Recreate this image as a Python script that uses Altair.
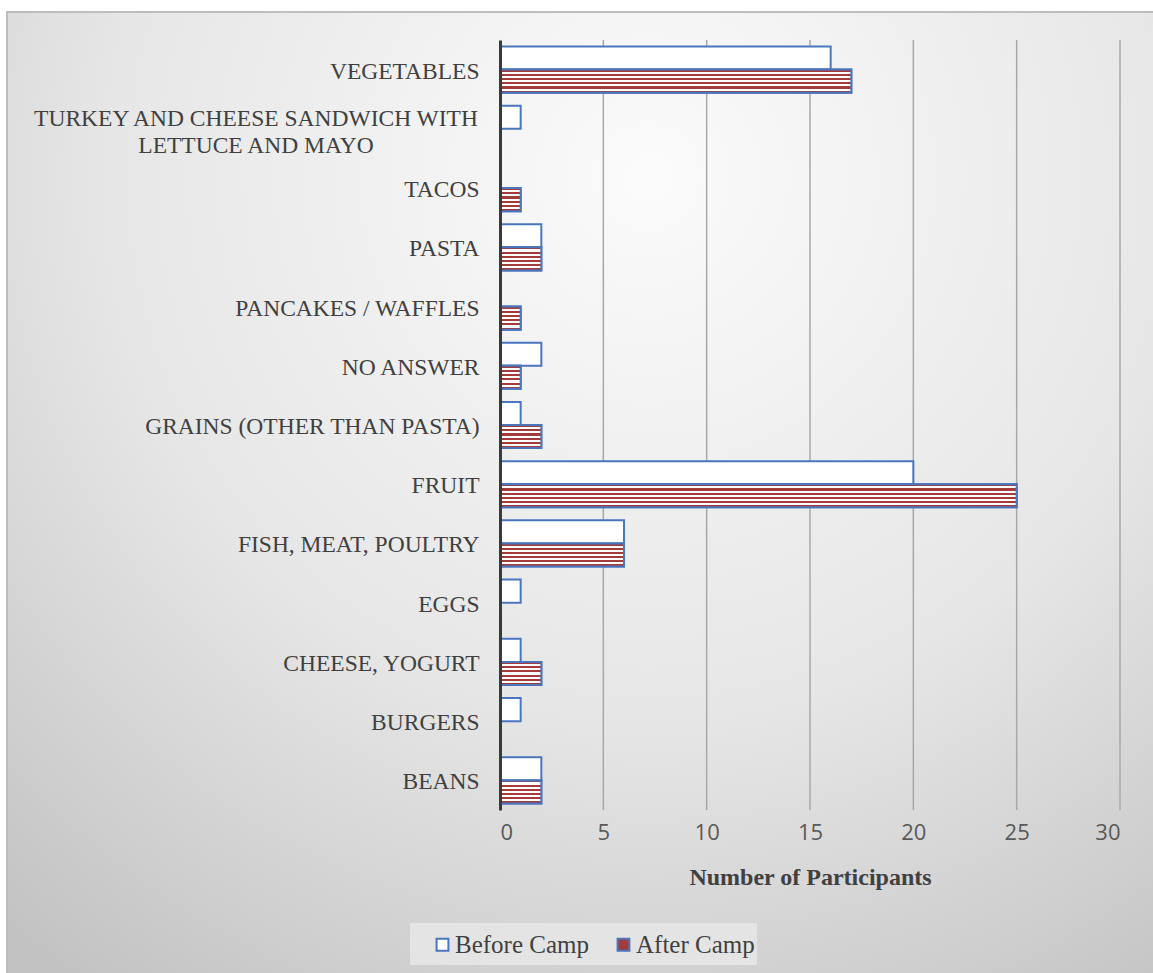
import altair as alt
import pandas as pd

# Favourite foods reported before and after camp
categories = [
    "VEGETABLES",
    "TURKEY AND CHEESE SANDWICH WITH LETTUCE AND MAYO",
    "TACOS",
    "PASTA",
    "PANCAKES / WAFFLES",
    "NO ANSWER",
    "GRAINS (OTHER THAN PASTA)",
    "FRUIT",
    "FISH, MEAT, POULTRY",
    "EGGS",
    "CHEESE, YOGURT",
    "BURGERS",
    "BEANS",
]
before_camp = [16, 1, 0, 2, 0, 2, 1, 20, 6, 1, 1, 1, 2]
after_camp = [17, 0, 1, 2, 1, 1, 2, 25, 6, 0, 2, 0, 2]
series = ["Before Camp", "After Camp"]
x_ticks = [0, 5, 10, 15, 20, 25, 30]

# the long category is written on two centred lines
long_food = categories[1]
long_lines = ["TURKEY AND CHEESE SANDWICH WITH", "LETTUCE AND MAYO"]

rows = []
for cat, b, a in zip(categories, before_camp, after_camp):
    rows.append({"food": cat, "series": series[0], "count": b})
    rows.append({"food": cat, "series": series[1], "count": a})
df = pd.DataFrame(rows)
ticks_df = pd.DataFrame({"tick": x_ticks[1:]})
long_df = pd.DataFrame([{"food": long_food, "text": "\n".join(long_lines)}])

W, H = 620, 770
PAD_L, PAD_T, PAD_R, PAD_B = 500, 40, 33, 163

BLUE = "#4a76bd"
RED = "#a33b3b"
SERIF = "Liberation Serif"
LABEL_SIZE = 23.5
LABEL_PAD = 21

# horizontal red/white stripes for the after-camp bars
n_seg = 11
stops = []
for i in range(n_seg):
    c = RED if i % 2 == 0 else "#ffffff"
    stops.append(alt.GradientStop(offset=i / n_seg, color=c))
    stops.append(alt.GradientStop(offset=(i + 1) / n_seg, color=c))
stripes = alt.LinearGradient(gradient="linear", stops=stops, x1=0, x2=0, y1=0, y2=1)

backdrop = alt.RadialGradient(
    gradient="radial",
    stops=[alt.GradientStop(offset=0, color="#fbfbfb"),
           alt.GradientStop(offset=0.55, color="#e6e6e6"),
           alt.GradientStop(offset=1, color="#c2c2c2")],
    x1=0.55, y1=0.22, r1=0, x2=0.55, y2=0.22, r2=0.85,
)

one = pd.DataFrame([{"k": 1}])

# chart backdrop with its frame
bg = alt.Chart(one).mark_rect(
    fill=backdrop, stroke="#bdbdbd", strokeWidth=2
).encode(
    x=alt.value(7 - PAD_L), x2=alt.value(W + PAD_R + 20),
    y=alt.value(12 - PAD_T), y2=alt.value(H + PAD_B + 20),
)

# panel behind the legend
legend_box = alt.Chart(one).mark_rect(fill="#e4e4e4").encode(
    x=alt.value(410 - PAD_L), x2=alt.value(757 - PAD_L),
    y=alt.value(923 - PAD_T), y2=alt.value(965 - PAD_T),
)

# vertical gridlines, drawn behind the bars
grid = alt.Chart(ticks_df).mark_rule(color="#a8a8a8", strokeWidth=1.5).encode(
    x=alt.X("tick:Q"), y=alt.value(0), y2=alt.value(H),
)

y_enc = alt.Y(
    "food:N", sort=categories, title=None,
    scale=alt.Scale(paddingInner=0.22, paddingOuter=0.11),
    axis=alt.Axis(
        labelFont=SERIF, labelFontSize=LABEL_SIZE, labelColor="#404040",
        labelPadding=LABEL_PAD, ticks=False, domainColor="#3a3a3a", domainWidth=3,
        labelExpr=f"datum.label == '{long_food}' ? '' : datum.label",
        labelLimit=700, labelOffset=2, zindex=2,
    ),
)
x_enc = alt.X(
    "count:Q", title="Number of Participants",
    scale=alt.Scale(domain=[0, 30], nice=False),
    axis=alt.Axis(
        values=x_ticks, grid=False,
        domain=False, ticks=False, labelFont="Open Sans", labelFontSize=22,
        labelColor="#595959", labelPadding=12, titleFont=SERIF, titleFontSize=24,
        titleFontWeight="bold", titleColor="#404040", titlePadding=22, zindex=2,
    ),
)
yoff = alt.YOffset("series:N", sort=series, scale=alt.Scale(domain=series))

bars = alt.Chart(df).transform_filter("datum.count > 0").mark_bar(
    stroke=BLUE, strokeWidth=2
).encode(
    x=x_enc, y=y_enc, yOffset=yoff,
    fill=alt.Fill(
        "series:N", sort=series,
        scale=alt.Scale(domain=series, range=["#ffffff", RED]),
        legend=alt.Legend(
            title=None, orient="none", direction="horizontal",
            legendX=-70, legendY=892, padding=0, zindex=2,
            labelFont=SERIF, labelFontSize=25, labelColor="#404040",
            symbolType="square", symbolSize=140, symbolStrokeColor=BLUE,
            symbolStrokeWidth=2, columnPadding=22, labelOffset=0,
        ),
    ),
)

after_bars = alt.Chart(df).transform_filter(
    "datum.count > 0 && datum.series == 'After Camp'"
).mark_bar(fill=stripes, stroke=BLUE, strokeWidth=2).encode(
    x="count:Q", y=alt.Y("food:N", sort=categories), yOffset=yoff,
)

# two-line label, centred on the width of its first line
first_line_w = 443
long_label = alt.Chart(long_df).mark_text(
    font=SERIF, fontSize=LABEL_SIZE, color="#404040", align="center",
    baseline="middle", lineBreak="\n", lineHeight=27, dy=-10,
).encode(
    x=alt.value(-(LABEL_PAD + 1.5) - first_line_w / 2),
    y=alt.Y("food:N", sort=categories),
    text="text:N",
)

chart = alt.layer(bg, legend_box, grid, bars, after_bars, long_label).properties(
    width=W, height=H,
    autosize=alt.AutoSizeParams(type="none"),
    padding={"left": PAD_L, "top": PAD_T, "right": PAD_R, "bottom": PAD_B},
    background="#ffffff",
).configure_view(stroke=None)

chart.save("out.html", embed_options={"renderer": "svg", "actions": False})
